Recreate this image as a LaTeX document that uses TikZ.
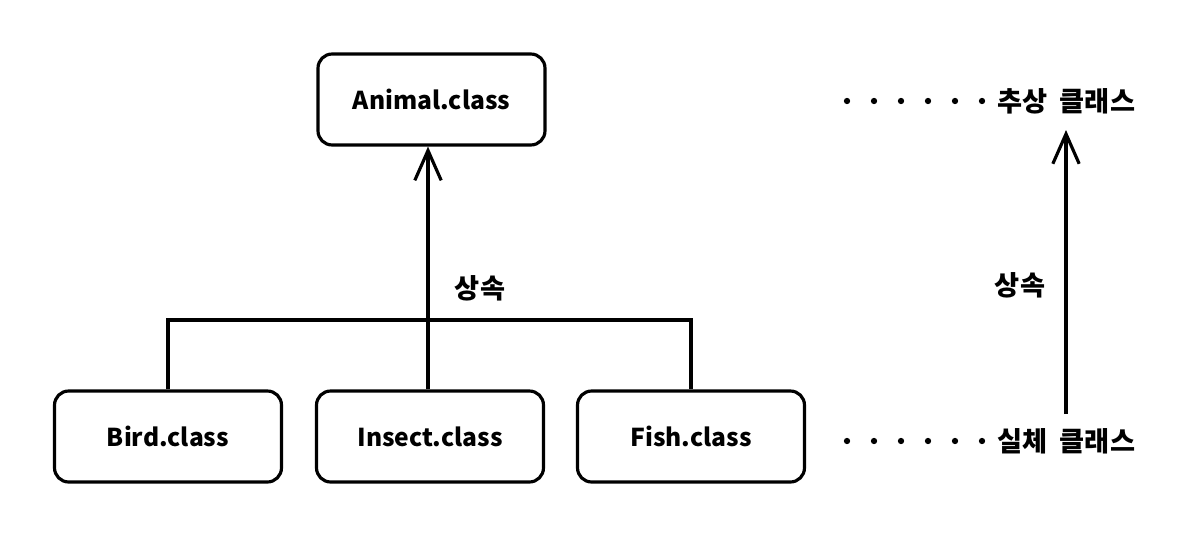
\documentclass[tikz,border=0pt]{standalone}
\usepackage{fontspec}
\setmainfont{Noto Sans CJK KR}
\usetikzlibrary{arrows.meta}

\begin{document}
\begin{tikzpicture}[x=0.02cm, y=-0.02cm, line width=1.8pt,
        cls/.style={draw, rounded corners=8pt, minimum width=4.54cm, minimum height=1.82cm, font=\bfseries\fontsize{14}{17}\selectfont},
        lbl/.style={font=\bfseries\fontsize{15.5}{18}\selectfont, inner sep=0pt},
        inh/.style={-{Straight Barb[length=17pt, width=15pt]}}]
            \useasboundingbox (0,0) rectangle (1203,541);

            \node[cls] (animal) at (431.5,99.5) {Animal.class};
            \node[cls] (bird) at (168,436.5) {Bird.class};
            \node[cls] (insect) at (430,436.5) {Insect.class};
            \node[cls] (fish) at (691,436.5) {Fish.class};

            \coordinate (joint) at (428,320);
            \draw[inh] (joint |- insect.north) -- (joint |- animal.south);
            \draw (bird.north) |- (joint) -| (fish.north);
            \node[lbl] (inhleft) at (480,288) {상속};

            \node[lbl, anchor=west] (abstract) at (996,101) {추상\hspace{0.45em}클래스};
            \node[lbl, anchor=west] (concrete) at (996,441) {실체\hspace{0.45em}클래스};
            \foreach \x in {847,874,901,928,955,982} {
                \fill (\x,101) circle (1.8pt);
                \fill (\x,441) circle (1.8pt);
            }

            \coordinate (uptop) at (1066,130);
            \coordinate (upbottom) at (1066,414);
            \draw[inh] (upbottom) -- (uptop);
            \node[lbl] (inhright) at (1020,285) {상속};
        \end{tikzpicture}
\end{document}
